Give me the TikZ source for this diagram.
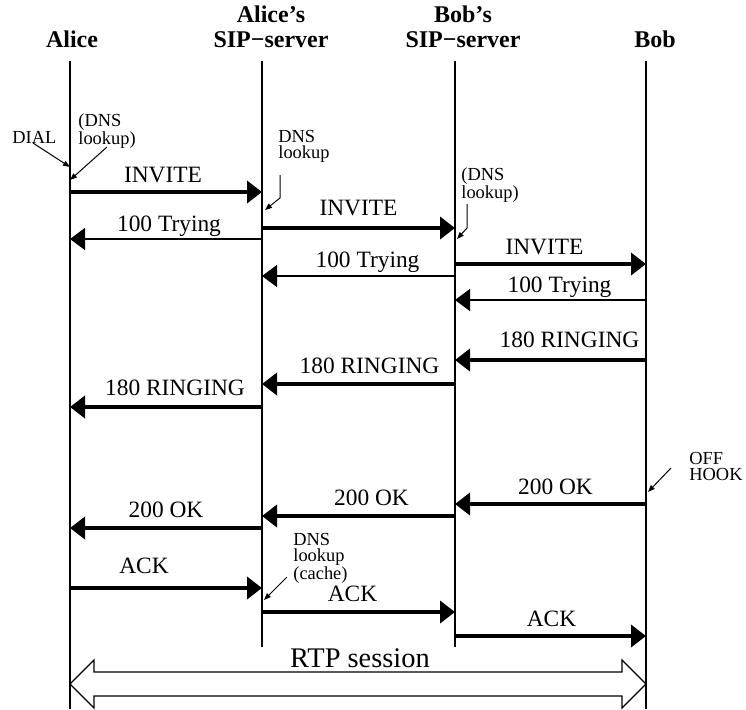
\documentclass[tikz,border=0pt]{standalone}
\usepackage{fontspec}
\setmainfont{Liberation Serif}
\usetikzlibrary{arrows.meta,calc}

\begin{document}
\begin{tikzpicture}[x=0.5pt,y=-0.5pt,
  party/.style={font=\fontsize{12}{12.5}\selectfont\bfseries,align=center,
               anchor=south,inner sep=0pt,text depth=0pt},
  life/.style={line width=1pt},
  msg/.style={-{Triangle[length=7.5pt,width=11pt]},line width=0.65pt},
  big/.style={msg,line width=2.2pt},
  lbl/.style={above,inner sep=0pt,text depth=0pt,yshift=3.5pt,
               font=\fontsize{11.7}{13}\selectfont},
  note/.style={font=\fontsize{9.2}{7.8}\selectfont,align=left,inner sep=0pt},
  pointer/.style={-{Triangle[length=3.5pt,width=2.6pt]},line width=0.5pt}]
  \useasboundingbox (0,0) rectangle (746,709);
  % lifelines
  \coordinate (A) at (70,61);
  \coordinate (S) at (262,61);
  \coordinate (T) at (455,61);
  \coordinate (B) at (646,61);
  \node[party] (alice) at (72,48) {Alice};
  \node[party] (asip) at (271,48) {Alice’s\\SIP−server};
  \node[party] (bsip) at (463,48) {Bob’s\\SIP−server};
  \node[party] (bob) at (655,48) {Bob};
  \draw[life] (A) -- (A |- 0,709);
  \draw[life] (S) -- (S |- 0,647);
  \draw[life] (T) -- (T |- 0,647);
  \draw[life] (B) -- (B |- 0,709);
  % call setup
  \draw[big] (A |- 0,192) -- node[lbl,xshift=-1.5pt]{INVITE} (S |- 0,192);
  \draw[msg] (S |- 0,239) -- node[lbl,xshift=1.5pt]{100 Trying} (A |- 0,239);
  \draw[big] (S |- 0,228) -- node[lbl,yshift=1.5pt]{INVITE} (T |- 0,228);
  \draw[big] (T |- 0,264) -- node[lbl,xshift=-3pt]{INVITE} (B |- 0,264);
  \draw[msg] (T |- 0,276) -- node[lbl,xshift=4.5pt,yshift=0.5pt]{100 Trying} (S |- 0,276);
  \draw[msg] (B |- 0,300) -- node[lbl,xshift=4.5pt]{100 Trying} (T |- 0,300);
  \draw[big] (B |- 0,360) -- node[lbl,xshift=9.5pt,yshift=1.5pt]{180 RINGING} (T |- 0,360);
  \draw[big] (T |- 0,384) -- node[lbl,xshift=5.5pt,yshift=0.5pt]{180 RINGING} (S |- 0,384);
  \draw[big] (S |- 0,407) -- node[lbl,xshift=4.5pt,yshift=1pt]{180 RINGING} (A |- 0,407);
  \draw[big] (B |- 0,504) -- node[lbl,xshift=2.5pt]{200 OK} (T |- 0,504);
  \draw[big] (T |- 0,516) -- node[lbl,xshift=6.5pt,yshift=0.5pt]{200 OK} (S |- 0,516);
  \draw[big] (S |- 0,528) -- node[lbl,yshift=0.5pt]{200 OK} (A |- 0,528);
  \draw[big] (A |- 0,588) -- node[lbl,xshift=-11pt,yshift=2.5pt]{ACK} (S |- 0,588);
  \draw[big] (S |- 0,612) -- node[lbl,xshift=-3pt,yshift=0.5pt]{ACK} (T |- 0,612);
  \draw[big] (T |- 0,636) -- node[lbl,xshift=0.5pt]{ACK} (B |- 0,636);
  % side notes
  \node[note,anchor=base west] (dial) at (12,143) {DIAL};
  \draw[pointer] (33,143) -- (A |- 0,167);
  \node[note,anchor=north west] (dnsa) at (78,113) {(DNS\\lookup)};
  \draw[pointer] (107,147) -- (A |- 0,180);
  \node[note,anchor=north west] (dnss) at (278,130) {DNS\\lookup};
  \draw[pointer] (280,175) -- (280,198) -- (265,210);
  \node[note,anchor=north west] (dnst) at (461,167) {(DNS\\lookup)};
  \draw[pointer] (467,204) -- (467,228) -- (457,239);
  \node[note,anchor=north west] (offhook) at (689,452) {OFF\\HOOK};
  \draw[pointer] (671,468) -- (648,492);
  \node[note,anchor=north west] (cache) at (293,533) {DNS\\lookup\\(cache)};
  \draw[pointer] (287,577) -- (264,600);
  % media
  \draw[line width=0.6pt] (70,684) -- (94,660) -- (94,672) -- (622,672) -- (622,660)
    -- (646,684) -- (622,708) -- (622,696) -- (94,696) -- (94,708) -- cycle;
  \node[font=\fontsize{14.2}{16}\selectfont,anchor=base,inner sep=0pt] (rtp) at (360,667) {RTP session};
\end{tikzpicture}
\end{document}
